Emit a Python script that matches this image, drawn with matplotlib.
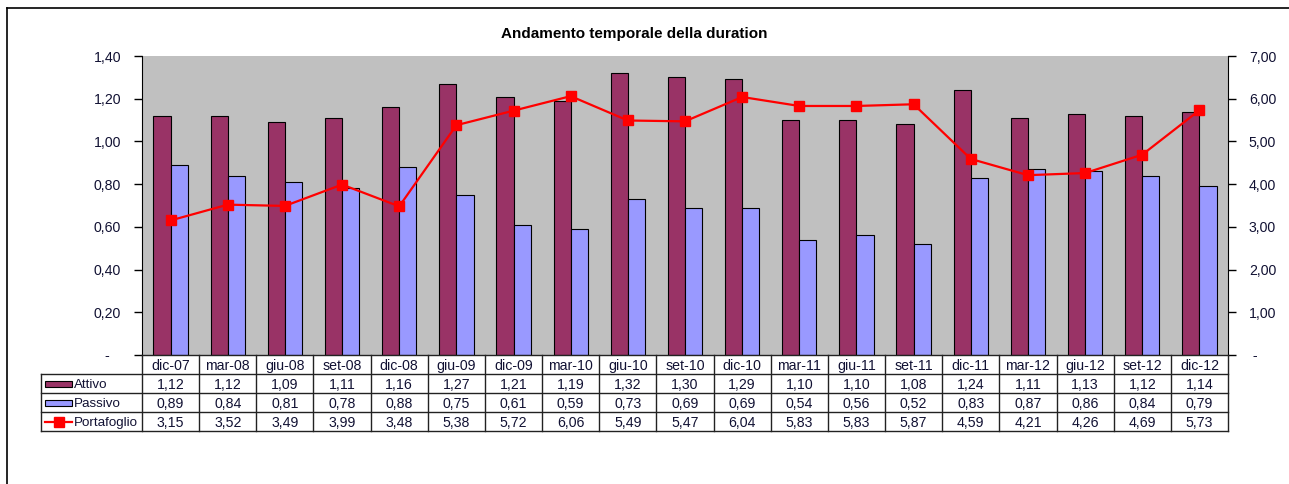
import matplotlib
matplotlib.use("Agg")
import matplotlib.pyplot as plt
from matplotlib.lines import Line2D
from matplotlib.patches import Rectangle
import numpy as np

plt.rcParams['font.family'] = ['Liberation Sans', 'DejaVu Sans']

categories = ["dic-07", "mar-08", "giu-08", "set-08", "dic-08", "giu-09", "dic-09", "mar-10",
              "giu-10", "set-10", "dic-10", "mar-11", "giu-11", "set-11", "dic-11", "mar-12",
              "giu-12", "set-12", "dic-12"]
attivo = [1.12, 1.12, 1.09, 1.11, 1.16, 1.27, 1.21, 1.19, 1.32, 1.30, 1.29, 1.10, 1.10, 1.08,
          1.24, 1.11, 1.13, 1.12, 1.14]
passivo = [0.89, 0.84, 0.81, 0.78, 0.88, 0.75, 0.61, 0.59, 0.73, 0.69, 0.69, 0.54, 0.56, 0.52,
           0.83, 0.87, 0.86, 0.84, 0.79]
portafoglio = [3.15, 3.52, 3.49, 3.99, 3.48, 5.38, 5.72, 6.06, 5.49, 5.47, 6.04, 5.83, 5.83, 5.87,
               4.59, 4.21, 4.26, 4.69, 5.73]
series_names = ["Attivo", "Passivo", "Portafoglio"]
left_ticks = [0, 0.2, 0.4, 0.6, 0.8, 1.0, 1.2, 1.4]
right_ticks = [0, 1, 2, 3, 4, 5, 6, 7]

c_att = "#993366"
c_pas = "#9999FF"
c_line = "#FF0000"
txt = "#111133"
fs = 10.2

W, H = 1289, 484
fig = plt.figure(figsize=(W / 100, H / 100), dpi=100)
fig.patch.set_facecolor("white")

fig.add_artist(Line2D([7 / W, 7 / W], [0, 1 - 8 / H], color="black", lw=1.2, transform=fig.transFigure))
fig.add_artist(Line2D([7 / W, 1], [1 - 8 / H, 1 - 8 / H], color="black", lw=1.2, transform=fig.transFigure))

L, R, T, B = 142, 1228, 56, 355
ax = fig.add_axes([L / W, 1 - B / H, (R - L) / W, (B - T) / H])
ax.set_facecolor("#C0C0C0")
n = len(categories)
x = np.arange(n)
bw = 0.3
ax.bar(x - bw / 2, attivo, width=bw, color=c_att, edgecolor="black", linewidth=0.8, zorder=2)
ax.bar(x + bw / 2, passivo, width=bw, color=c_pas, edgecolor="black", linewidth=0.8, zorder=2)
ax.set_xlim(-0.5, n - 0.5)
ax.set_ylim(0, 1.4)
ax.set_yticks(left_ticks)
ax.set_yticklabels(["-   " if v == 0 else f"{v:.2f}".replace(".", ",") for v in left_ticks],
                   fontsize=fs, color=txt)
ax.set_xticks([])
ax.tick_params(axis="y", direction="out", length=6, pad=9, width=1)
for s in ["top", "right", "bottom"]:
    ax.spines[s].set_visible(False)
ax.spines["left"].set_color("black")

ax2 = ax.twinx()
ax2.plot(x, portafoglio, color=c_line, lw=1.6, marker="s", markersize=7.5, zorder=3)
ax2.set_ylim(0, 7)
ax2.set_yticks(right_ticks)
ax2.set_yticklabels([" -" if v == 0 else f"{v:.2f}".replace(".", ",") for v in right_ticks],
                    fontsize=fs, color=txt)
ax2.tick_params(axis="y", direction="out", length=6, pad=9, width=1)
for s in ["top", "left", "bottom"]:
    ax2.spines[s].set_visible(False)
ax2.spines["right"].set_color("black")

fig.text(634 / W, 1 - 34 / H, "Andamento temporale della duration", ha="center", va="center",
         fontsize=11, fontweight="bold", color="black")

row_edges = [355, 374, 393, 412, 431]
col_w = (R - L) / n
lc = "#222222"
def fy(py):
    return 1 - py / H
def fx(px):
    return px / W
fig.add_artist(Line2D([fx(L), fx(R)], [fy(row_edges[0])] * 2, color=lc, lw=1, transform=fig.transFigure))
for ry in row_edges[1:]:
    fig.add_artist(Line2D([fx(41), fx(R)], [fy(ry)] * 2, color=lc, lw=1, transform=fig.transFigure))
for i in range(n + 1):
    px = L + i * col_w
    fig.add_artist(Line2D([fx(px)] * 2, [fy(row_edges[0]), fy(row_edges[-1])], color=lc, lw=1,
                          transform=fig.transFigure))
fig.add_artist(Line2D([fx(41)] * 2, [fy(row_edges[1]), fy(row_edges[-1])], color=lc, lw=1,
                      transform=fig.transFigure))

for i, c in enumerate(categories):
    cx = L + (i + 0.5) * col_w
    fig.text(fx(cx), fy((row_edges[0] + row_edges[1]) / 2), c, ha="center", va="center_baseline",
             fontsize=fs, color=txt)
    for r, vals in enumerate([attivo, passivo, portafoglio]):
        fig.text(fx(cx), fy((row_edges[r + 1] + row_edges[r + 2]) / 2),
                 f"{vals[i]:.2f}".replace(".", ","), ha="center", va="center_baseline",
                 fontsize=fs, color=txt)

for r, name in enumerate(series_names):
    cy = (row_edges[r + 1] + row_edges[r + 2]) / 2
    if r < 2:
        fig.add_artist(Rectangle((fx(45), fy(cy + 3)), 27 / W, 6 / H, facecolor=[c_att, c_pas][r],
                                 edgecolor="black", lw=0.8, transform=fig.transFigure))
    else:
        fig.add_artist(Line2D([fx(45), fx(72)], [fy(cy)] * 2, color=c_line, lw=1.6,
                              transform=fig.transFigure))
        fig.add_artist(Line2D([fx(58.5)], [fy(cy)], color=c_line, marker="s", markersize=7,
                              transform=fig.transFigure))
    fig.text(fx(74), fy(cy), name, ha="left", va="center_baseline", fontsize=9.6, color=txt)

fig.savefig("out.png", dpi=100)
